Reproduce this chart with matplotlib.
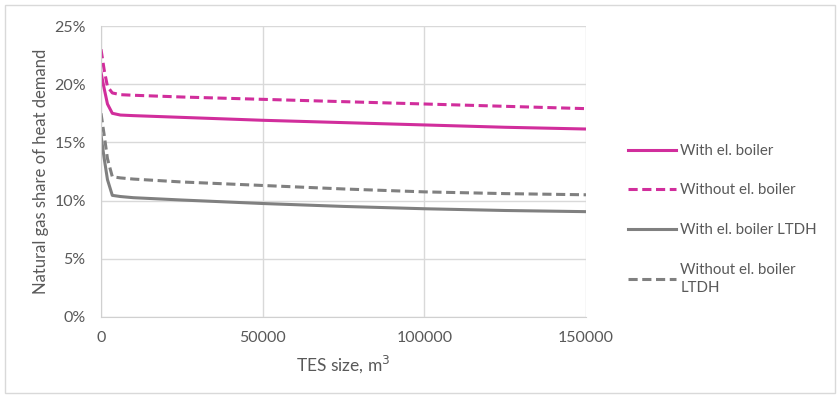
import matplotlib
matplotlib.use("Agg")
import matplotlib.pyplot as plt
from matplotlib.patches import Rectangle
from matplotlib.ticker import FuncFormatter

plt.rcParams['font.family'] = ['Lato', 'DejaVu Sans']

tes_size = [0, 1000, 2000, 3500, 6000, 10000, 25000, 50000, 75000, 100000, 125000, 150000]
with_el = [21.0, 19.6, 18.3, 17.5, 17.35, 17.3, 17.15, 16.9, 16.7, 16.5, 16.3, 16.15]
without_el = [23.0, 21.2, 19.8, 19.25, 19.1, 19.05, 18.9, 18.7, 18.5, 18.3, 18.1, 17.9]
with_el_ltdh = [15.6, 13.6, 11.8, 10.45, 10.35, 10.25, 10.05, 9.75, 9.5, 9.3, 9.15, 9.05]
without_el_ltdh = [17.5, 15.6, 13.6, 12.05, 11.95, 11.85, 11.6, 11.3, 11.0, 10.75, 10.6, 10.5]

labels = ["With el. boiler", "Without el. boiler", "With el. boiler LTDH", "Without el. boiler\nLTDH"]
magenta = "#D12E9C"
grey = "#808080"
txt = "#595959"

fig = plt.figure(figsize=(8.4, 3.98), dpi=100)
fig.patches.append(Rectangle((5/840, 5/398), 830/840, 388/398, transform=fig.transFigure,
                             fill=False, edgecolor="#D9D9D9", linewidth=1))
ax = fig.add_axes([101/840, 1-317/398, 485/840, 291/398])

ax.plot(tes_size, with_el, color=magenta, lw=2.2, label=labels[0])
ax.plot(tes_size, without_el, color=magenta, lw=2.2, ls=(0, (3, 1.5)), label=labels[1])
ax.plot(tes_size, with_el_ltdh, color=grey, lw=2.2, label=labels[2])
ax.plot(tes_size, without_el_ltdh, color=grey, lw=2.2, ls=(0, (3, 1.5)), label=labels[3])

ax.set_xlim(0, 150000)
ax.set_ylim(0, 25)
ax.set_xticks([0, 50000, 100000, 150000])
ax.set_yticks([0, 5, 10, 15, 20, 25])
ax.yaxis.set_major_formatter(FuncFormatter(lambda v, p: f"{int(v)}%"))
ax.grid(True, color="#D9D9D9", lw=1)
ax.set_axisbelow(True)
for s in ["top", "right"]:
    ax.spines[s].set_visible(False)
for s in ["left", "bottom"]:
    ax.spines[s].set_color("#D0D0D0")
ax.tick_params(axis="y", length=0, colors=txt, labelsize=11.5, pad=11)
ax.tick_params(axis="x", length=0, colors=txt, labelsize=11.5, pad=10)
ax.set_xlabel("TES size, m$^3$", color=txt, fontsize=12.5, labelpad=6)
ax.set_ylabel("Natural gas share of heat demand", color=txt, fontsize=12, labelpad=4)

leg = fig.legend(loc="upper left", bbox_to_anchor=(622/840, 1-138/398), frameon=False,
                 fontsize=10.8, labelcolor=txt, handlelength=3.2, handletextpad=0.3,
                 labelspacing=1.7, borderaxespad=0)
for t in leg.get_texts():
    t.set_linespacing(1.4)

fig.savefig("out.png", dpi=100)
